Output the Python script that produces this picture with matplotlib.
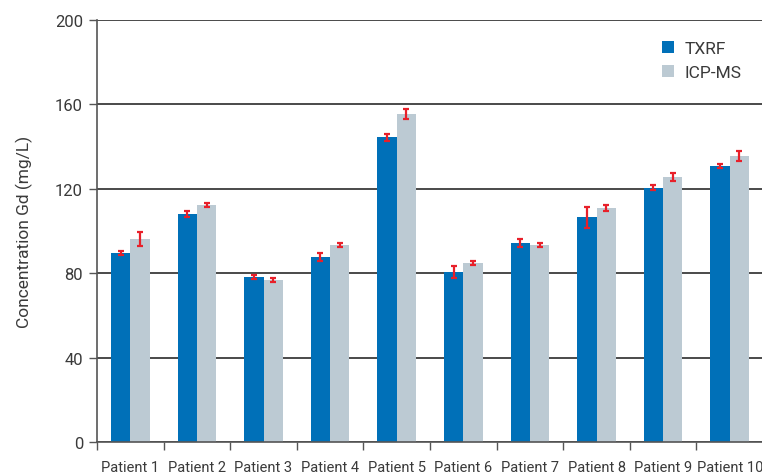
import matplotlib
matplotlib.use("Agg")
import matplotlib.pyplot as plt
import numpy as np

patients = ["Patient 1", "Patient 2", "Patient 3", "Patient 4", "Patient 5",
            "Patient 6", "Patient 7", "Patient 8", "Patient 9", "Patient 10"]
txrf = [89.6, 108.1, 78.2, 87.7, 144.5, 80.6, 94.3, 106.6, 120.4, 130.8]
txrf_err = [1.0, 1.3, 1.0, 2.1, 1.7, 2.8, 2.0, 5.0, 1.2, 1.1]
icpms = [96.2, 112.3, 76.8, 93.4, 155.4, 84.8, 93.4, 110.9, 125.6, 135.5]
icpms_err = [3.3, 1.0, 1.0, 1.0, 2.2, 1.0, 0.9, 1.3, 2.0, 2.3]
yticks = [0, 40, 80, 120, 160, 200]

plt.rcParams['font.family'] = ['Roboto', 'DejaVu Sans']
text_color = '#3a3a3a'

fig = plt.figure(figsize=(7.62, 4.77), dpi=100)
ax = fig.add_axes([97/762, 1 - 443/477, (763 - 97)/762, (443 - 21)/477])

x = np.arange(len(patients))
w = 0.29
ax.set_axisbelow(True)
ax.bar(x - w/2, txrf, width=w, color='#0070b8', label='TXRF', zorder=2)
ax.bar(x + w/2, icpms, width=w, color='#bccad3', label='ICP-MS', zorder=2)
ax.errorbar(x - w/2, txrf, yerr=txrf_err, fmt='none', ecolor='#e8202a',
            elinewidth=1.6, capsize=2.5, capthick=1.6, zorder=3)
ax.errorbar(x + w/2, icpms, yerr=icpms_err, fmt='none', ecolor='#e8202a',
            elinewidth=1.6, capsize=2.5, capthick=1.6, zorder=3)

ax.set_xlim(-0.5, len(patients) - 0.5)
ax.set_ylim(0, 200)
ax.set_yticks(yticks)
ax.yaxis.grid(True, color='#4a4a4a', linewidth=1.4)
ax.tick_params(axis='y', length=6, color='#555555', width=1, labelsize=12,
               labelcolor=text_color, pad=4)

ax.set_xticks(np.arange(-0.5, len(patients)), labels=[''] * (len(patients) + 1))
ax.set_xticks(x, labels=patients, minor=True)
ax.tick_params(axis='x', which='major', length=6, color='#555555', width=1)
ax.tick_params(axis='x', which='minor', length=0, labelsize=10.5,
               labelcolor=text_color, pad=13)

for s in ['top', 'right']:
    ax.spines[s].set_visible(False)
for s in ['left', 'bottom']:
    ax.spines[s].set_color('#555555')
    ax.spines[s].set_linewidth(1.2)

ax.set_ylabel('Concentration Gd (mg/L)', fontsize=12.5, color=text_color, labelpad=16)

leg = ax.legend(loc='upper left', bbox_to_anchor=(0.848, 0.95), frameon=False,
                fontsize=12.5, handlelength=0.7, handleheight=0.7, handletextpad=0.6,
                labelspacing=0.5, borderpad=0, borderaxespad=0)
for t in leg.get_texts():
    t.set_color(text_color)

fig.savefig('out.png', dpi=100)
